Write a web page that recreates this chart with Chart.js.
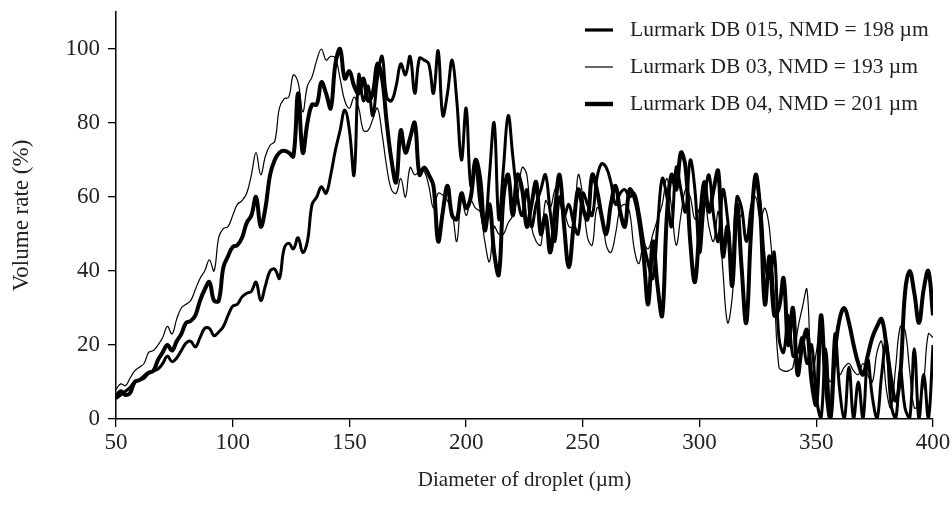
<!DOCTYPE html>
<html>
<head>
<meta charset="utf-8">
<title>Droplet size distribution</title>
<script src="https://cdn.jsdelivr.net/npm/chart.js@4.4.1/dist/chart.umd.min.js"></script>
<style>
  html, body { margin: 0; padding: 0; background: #fff; }
  #wrap { width: 952px; height: 517px; }
</style>
</head>
<body>
<div id="wrap"><canvas id="dropletChart"></canvas></div>
<script>
// droplet diameter (µm), sampled every 2 µm
const diameters = [
  50, 52, 54, 56, 58, 60, 62, 64, 66, 68,
  70, 72, 74, 76, 78, 80, 82, 84, 86, 88,
  90, 92, 94, 96, 98, 100, 102, 104, 106, 108,
  110, 112, 114, 116, 118, 120, 122, 124, 126, 128,
  130, 132, 134, 136, 138, 140, 142, 144, 146, 148,
  150, 152, 154, 156, 158, 160, 162, 164, 166, 168,
  170, 172, 174, 176, 178, 180, 182, 184, 186, 188,
  190, 192, 194, 196, 198, 200, 202, 204, 206, 208,
  210, 212, 214, 216, 218, 220, 222, 224, 226, 228,
  230, 232, 234, 236, 238, 240, 242, 244, 246, 248,
  250, 252, 254, 256, 258, 260, 262, 264, 266, 268,
  270, 272, 274, 276, 278, 280, 282, 284, 286, 288,
  290, 292, 294, 296, 298, 300, 302, 304, 306, 308,
  310, 312, 314, 316, 318, 320, 322, 324, 326, 328,
  330, 332, 334, 336, 338, 340, 342, 344, 346, 348,
  350, 352, 354, 356, 358, 360, 362, 364, 366, 368,
  370, 372, 374, 376, 378, 380, 382, 384, 386, 388,
  390, 392, 394, 396, 398, 400
];

// volume rate (%) per nozzle
const db015 = [
  5.5, 6.5, 7.5, 8.5, 10, 10.5, 11, 12.4, 13, 13.5,
  15, 17, 15.5, 16.5, 18.5, 20.5, 21, 19.5, 22, 24.5,
  24.5, 22.5, 23.5, 25, 28, 30.5, 31, 33, 34, 34.5,
  37, 32, 36, 40, 40.5, 38, 46, 47.5, 46, 49,
  45, 48, 58, 60, 62.8, 61, 66, 72.7, 78, 83.5,
  78, 66, 93, 86, 90, 82, 92, 98, 87, 86,
  90, 96, 93, 98, 88, 97.5, 97, 96, 88, 99.5,
  82, 88, 97, 86, 70, 84, 63, 68, 58, 52,
  66, 80, 54, 68, 82, 71, 60, 55, 62, 52,
  58, 62, 66, 56, 48, 60, 55, 58, 53, 50,
  61, 58, 55, 65, 69, 68, 64, 58, 61, 62,
  60, 61, 56, 48, 42, 38, 52, 65, 60, 52,
  68, 62, 56, 70, 62, 45, 58, 66, 55, 48,
  62, 54, 40, 60, 57, 48, 55, 64, 58, 42,
  38, 45, 22, 18, 28, 17, 18, 22, 15, 20,
  6, 0, 19, 0, 23, 8, 0, 14, 0, 10,
  0, 16, 6, 0, 12, 21, 4, 0, 13, 3,
  0, 19, 0, 12, 0, 20
];

const db03 = [
  8, 9.5, 9, 11, 13, 14, 15, 18, 18.5, 20,
  22, 25, 23, 27, 30, 31, 32, 35, 38, 40,
  43, 40, 49, 51.5, 52, 55, 58, 59, 61, 66,
  72, 66, 71, 74, 75, 84, 86.5, 87, 93, 91,
  83, 90, 92.5, 97, 100, 97, 98, 97.5, 92, 86,
  84, 87, 84, 78, 78, 81, 84, 77, 68, 62,
  61, 65, 60, 68, 66, 67, 67, 63, 57, 61,
  60.5, 59, 56, 48, 60, 55, 59, 57, 56, 48,
  42.5, 52, 50, 50, 53, 55, 60, 68, 66, 52,
  48, 47, 59, 57, 62, 64, 57, 52, 52, 66,
  60, 49, 47, 57, 56, 47, 45, 50, 57, 58,
  56, 46, 42, 47, 46, 50, 54, 58, 65, 57,
  47, 55, 62, 60, 54, 57, 60, 52, 48, 56,
  40, 26, 33, 52, 55, 49, 58, 60, 54, 57,
  51, 34, 14, 13, 13, 14, 24, 30, 35, 12,
  18, 27, 16, 10, 16, 12, 14, 15, 13, 12,
  15, 12, 10, 18, 21, 8, 3, 14, 25, 24,
  13, 3, 4, 10, 23, 22
];

const db04 = [
  6, 7.5, 6.5, 7, 10, 10.5, 11.5, 12.5, 13, 16,
  18, 20, 18.5, 21, 23, 26, 26.5, 28, 32, 35,
  37, 32, 32, 41, 44, 46.5, 47, 49, 53, 55,
  60, 52, 57, 66, 70, 72, 72.5, 72, 71, 88,
  72, 80, 85, 85, 91, 88, 84, 96, 100, 92,
  94, 90, 88, 92, 86, 88, 96, 92, 80, 70,
  64, 78, 72, 76, 80, 66, 68, 66, 63, 48,
  56, 63, 55, 54, 61, 57, 60, 70, 65, 51,
  58, 45, 39, 60, 66, 55, 66, 62, 52, 58,
  64, 50, 55, 45, 56, 66, 52, 41, 52, 62,
  57, 54, 66, 62, 55, 50, 58, 63, 56, 52,
  62, 60, 54, 44, 31, 48, 36, 28, 55, 66,
  62, 72, 68, 48, 37, 52, 64, 56, 62, 67,
  44, 52, 36, 58, 41, 26, 50, 66, 56, 31,
  44, 28, 30, 38, 20, 30, 12, 20, 24, 10,
  4, 28, 10, 0, 18, 27, 30, 26, 20, 15,
  12, 17, 22, 25, 27, 20, 11, 5, 12, 34,
  40, 34, 26, 35, 40, 28
];

const seriesNames = [
  'Lurmark DB 015, NMD = 198 µm',
  'Lurmark DB 03, NMD = 193 µm',
  'Lurmark DB 04, NMD = 201 µm'
];
const seriesWidths = [3, 1.2, 4];
const legendWidths = [3.2, 1.2, 4.4];
const yTicks = [0, 20, 40, 60, 80, 100];

const textColor = '#222';
Chart.defaults.font.family = '"Liberation Serif", "Times New Roman", serif';
Chart.defaults.font.size = 23;
Chart.defaults.color = textColor;

function toPoints(values) {
  return diameters.map((d, i) => ({ x: d, y: values[i] }));
}

// legend sits inside the plot, top right, one entry per row
const insideLegend = {
  id: 'insideLegend',
  afterDraw(chart) {
    const { ctx, chartArea } = chart;
    ctx.save();
    ctx.font = '21.5px "Liberation Serif", serif';
    ctx.fillStyle = textColor;
    ctx.textBaseline = 'middle';
    chart.data.datasets.forEach((ds, i) => {
      const y = 30 + i * 37;
      ctx.strokeStyle = '#000';
      ctx.lineWidth = legendWidths[i];
      ctx.beginPath();
      ctx.moveTo(chartArea.right - 348, y);
      ctx.lineTo(chartArea.right - 320, y);
      ctx.stroke();
      ctx.fillText(ds.label, chartArea.right - 303, y);
    });
    ctx.restore();
  }
};

new Chart(document.getElementById('dropletChart'), {
  type: 'line',
  data: {
    datasets: [db015, db03, db04].map((vals, i) => ({
      label: seriesNames[i],
      data: toPoints(vals),
      borderColor: '#000',
      borderWidth: seriesWidths[i],
      pointRadius: 0,
      tension: 0.4,
      borderJoinStyle: 'round',
      fill: false
    }))
  },
  options: {
    responsive: true,
    maintainAspectRatio: false,
    animation: false,
    layout: { padding: { top: 12, right: 19, left: 0, bottom: 0 } },
    plugins: { legend: { display: false }, tooltip: { enabled: false } },
    scales: {
      x: {
        type: 'linear',
        min: 50,
        max: 400,
        ticks: { stepSize: 50, padding: 2, maxRotation: 0 },
        grid: { drawOnChartArea: false, tickLength: 8, color: '#000', lineWidth: 1.3 },
        border: { color: '#000', width: 1.5 },
        title: {
          display: true,
          text: 'Diameter of droplet (µm)',
          font: { size: 21 },
          padding: { top: 0, bottom: 24 }
        },
        afterFit(scale) {
          scale.height = 98;
          scale.paddingLeft = 0;
          scale.paddingRight = 0;
        }
      },
      y: {
        min: 0,
        max: 110,
        afterBuildTicks(scale) { scale.ticks = yTicks.map(v => ({ value: v })); },
        ticks: { padding: 8 },
        grid: { drawOnChartArea: false, tickLength: 8, color: '#000', lineWidth: 1.3 },
        border: { color: '#000', width: 1.5 },
        title: { display: true, text: 'Volume rate (%)', padding: { top: 8, bottom: 0 } },
        afterFit(scale) {
          scale.width = 116;
          scale.paddingTop = 0;
          scale.paddingBottom = 0;
        }
      }
    }
  },
  plugins: [insideLegend]
});
</script>
</body>
</html>
